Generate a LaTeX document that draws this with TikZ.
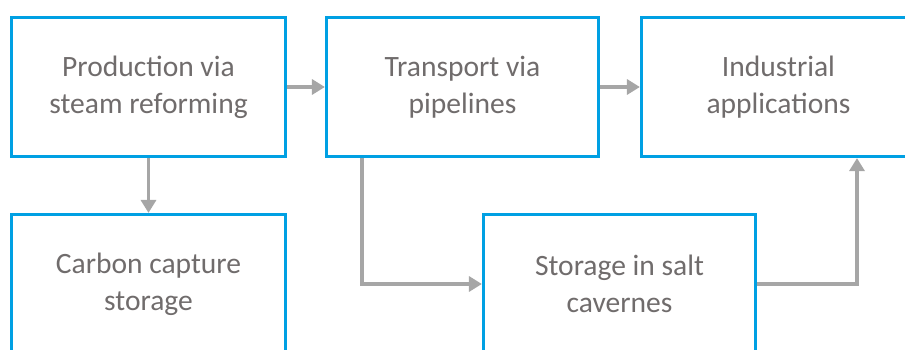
\documentclass[tikz,border=0pt]{standalone}
\usepackage{fontspec}
\setmainfont{Carlito}
\usetikzlibrary{arrows.meta,positioning}
\definecolor{boxblue}{RGB}{0,160,227}
\definecolor{flowgray}{RGB}{166,166,166}
\definecolor{textgray}{RGB}{112,108,108}

\begin{document}
\begin{tikzpicture}[
    stage/.style={rectangle, draw=boxblue, line width=1.8pt, fill=white,
      align=center, text=textgray, minimum height=2.78cm,
      font=\fontsize{16.8}{21}\selectfont},
    flow/.style={draw=flowgray, line width=2.2pt,
      -{Triangle[length=0.26cm, width=0.3cm]}}]
  \useasboundingbox (0, 0) rectangle (18.1, 6.98);

  \node[stage, minimum width=5.48cm] (prod) at (2.97, 5.24) {Production via\\steam reforming};
  \node[stage, minimum width=5.44cm] (trans) at (9.25, 5.24) {Transport via\\pipelines};
  \node[stage, minimum width=5.48cm] (ind) at (15.57, 5.24) {Industrial\\applications};
  \node[stage, minimum width=5.48cm] (ccs) at (2.97, 1.30) {Carbon capture\\storage};
  \node[stage, minimum width=5.44cm] (salt) at (12.39, 1.30) {Storage in salt\\cavernes};

  \draw[flow] (prod.east) -- (trans.west);
  \draw[flow] (trans.east) -- (ind.west);
  \draw[flow] (prod.south) -- (ccs.north);
  \draw[flow] ([xshift=0.75cm]trans.south west) |- (salt.west);
  \draw[flow] (salt.east) -| ([xshift=1.57cm]ind.south);
\end{tikzpicture}
\end{document}
